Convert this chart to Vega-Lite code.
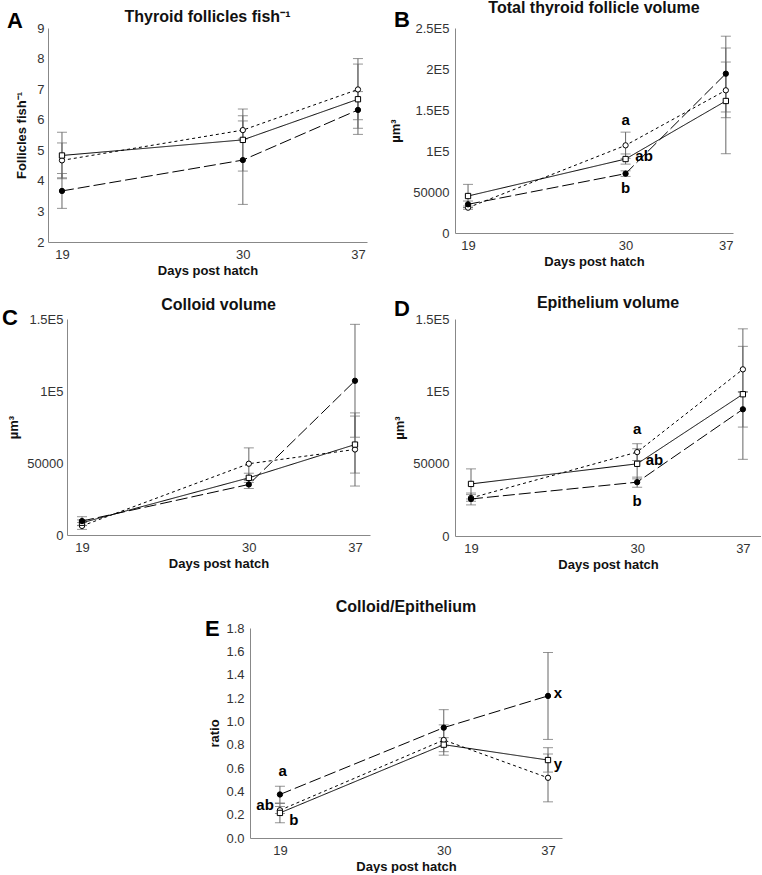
{
  "$schema": "https://vega.github.io/schema/vega-lite/v6.json",
  "background": "white",
  "padding": {"left": 0, "top": 0, "right": 0, "bottom": 0},
  "config": {
    "view": {"stroke": null},
    "font": "Liberation Sans",
    "axis": {"grid": false, "ticks": false, "domainColor": "#888888", "labelColor": "#333333", "labelFontSize": 13, "titleFontSize": 13, "titleFontWeight": "bold", "titleColor": "#111111", "labelFont": "Liberation Sans", "titleFont": "Liberation Sans", "labelPadding": 6},
    "title": {"fontSize": 16, "fontWeight": "bold", "font": "Liberation Sans", "color": "#111111", "anchor": "middle", "frame": "group"}
  },
  "datasets": {
    "main": [
      {"panel": "A", "series": "open", "day": 19, "y": 4.67, "lo": 4.10, "hi": 5.24},
      {"panel": "A", "series": "open", "day": 30, "y": 5.66, "lo": 5.37, "hi": 5.96},
      {"panel": "A", "series": "open", "day": 37, "y": 6.99, "lo": 6.00, "hi": 8.00},
      {"panel": "A", "series": "square", "day": 19, "y": 4.83, "lo": 4.07, "hi": 5.59},
      {"panel": "A", "series": "square", "day": 30, "y": 5.34, "lo": 4.32, "hi": 6.35},
      {"panel": "A", "series": "square", "day": 37, "y": 6.67, "lo": 5.52, "hi": 7.82},
      {"panel": "A", "series": "filled", "day": 19, "y": 3.67, "lo": 3.10, "hi": 4.24},
      {"panel": "A", "series": "filled", "day": 30, "y": 4.68, "lo": 3.23, "hi": 6.13},
      {"panel": "A", "series": "filled", "day": 37, "y": 6.32, "lo": 5.72, "hi": 6.92},
      {"panel": "B", "series": "open", "day": 19, "y": 30900, "lo": 28900, "hi": 32900},
      {"panel": "B", "series": "open", "day": 30, "y": 106900, "lo": 91000, "hi": 123000},
      {"panel": "B", "series": "open", "day": 37, "y": 174000, "lo": 140600, "hi": 208500},
      {"panel": "B", "series": "square", "day": 19, "y": 45100, "lo": 31000, "hi": 59300},
      {"panel": "B", "series": "square", "day": 30, "y": 90200, "lo": 84000, "hi": 96400},
      {"panel": "B", "series": "square", "day": 37, "y": 161000, "lo": 96700, "hi": 225600},
      {"panel": "B", "series": "filled", "day": 19, "y": 35000, "lo": 31000, "hi": 39000},
      {"panel": "B", "series": "filled", "day": 30, "y": 72400, "lo": 69000, "hi": 75800},
      {"panel": "B", "series": "filled", "day": 37, "y": 194300, "lo": 147600, "hi": 240000},
      {"panel": "C", "series": "open", "day": 19, "y": 6300, "lo": 3900, "hi": 8700},
      {"panel": "C", "series": "open", "day": 30, "y": 49500, "lo": 38500, "hi": 60500},
      {"panel": "C", "series": "open", "day": 37, "y": 59400, "lo": 34000, "hi": 84800},
      {"panel": "C", "series": "square", "day": 19, "y": 8500, "lo": 6500, "hi": 10500},
      {"panel": "C", "series": "square", "day": 30, "y": 39700, "lo": 36500, "hi": 42900},
      {"panel": "C", "series": "square", "day": 37, "y": 62800, "lo": 43000, "hi": 82600},
      {"panel": "C", "series": "filled", "day": 19, "y": 9700, "lo": 6700, "hi": 12700},
      {"panel": "C", "series": "filled", "day": 30, "y": 35100, "lo": 32300, "hi": 37900},
      {"panel": "C", "series": "filled", "day": 37, "y": 107100, "lo": 67900, "hi": 146300},
      {"panel": "D", "series": "open", "day": 19, "y": 26300, "lo": 24000, "hi": 28600},
      {"panel": "D", "series": "open", "day": 30, "y": 58000, "lo": 52200, "hi": 63800},
      {"panel": "D", "series": "open", "day": 37, "y": 115200, "lo": 99300, "hi": 131100},
      {"panel": "D", "series": "square", "day": 19, "y": 36000, "lo": 25600, "hi": 46400},
      {"panel": "D", "series": "square", "day": 30, "y": 49900, "lo": 39500, "hi": 60300},
      {"panel": "D", "series": "square", "day": 37, "y": 98000, "lo": 53000, "hi": 143200},
      {"panel": "D", "series": "filled", "day": 19, "y": 25600, "lo": 21500, "hi": 29700},
      {"panel": "D", "series": "filled", "day": 30, "y": 37200, "lo": 33700, "hi": 40700},
      {"panel": "D", "series": "filled", "day": 37, "y": 87600, "lo": 75300, "hi": 99900},
      {"panel": "E", "series": "filled", "day": 19, "y": 0.373, "lo": 0.30, "hi": 0.444},
      {"panel": "E", "series": "filled", "day": 30, "y": 0.946, "lo": 0.79, "hi": 1.10},
      {"panel": "E", "series": "filled", "day": 37, "y": 1.218, "lo": 0.845, "hi": 1.59},
      {"panel": "E", "series": "open", "day": 19, "y": 0.238, "lo": 0.21, "hi": 0.27},
      {"panel": "E", "series": "open", "day": 30, "y": 0.84, "lo": 0.71, "hi": 0.97},
      {"panel": "E", "series": "open", "day": 37, "y": 0.516, "lo": 0.31, "hi": 0.72},
      {"panel": "E", "series": "square", "day": 19, "y": 0.215, "lo": 0.13, "hi": 0.295},
      {"panel": "E", "series": "square", "day": 30, "y": 0.80, "lo": 0.74, "hi": 0.86},
      {"panel": "E", "series": "square", "day": 37, "y": 0.668, "lo": 0.565, "hi": 0.774}
    ],
    "notes": [
      {"panel": "B", "day": 30, "y": 137500, "label": "a"},
      {"panel": "B", "day": 31.29, "y": 94000, "label": "ab"},
      {"panel": "B", "day": 30, "y": 54500, "label": "b"},
      {"panel": "D", "day": 30, "y": 74100, "label": "a"},
      {"panel": "D", "day": 31.15, "y": 52200, "label": "ab"},
      {"panel": "D", "day": 30, "y": 24500, "label": "b"},
      {"panel": "E", "day": 19.18, "y": 0.573, "label": "a"},
      {"panel": "E", "day": 18.0, "y": 0.287, "label": "ab"},
      {"panel": "E", "day": 19.94, "y": 0.158, "label": "b"},
      {"panel": "E", "day": 37.67, "y": 1.247, "label": "x"},
      {"panel": "E", "day": 37.67, "y": 0.636, "label": "y"}
    ],
    "letters": [
      {"panel": "A", "day": 15.66, "y": 9.54, "label": "A"},
      {"panel": "B", "day": 13.83, "y": 271500, "label": "B"},
      {"panel": "C", "day": 13.73, "y": 157600, "label": "C"},
      {"panel": "D", "day": 13.9, "y": 163800, "label": "D"},
      {"panel": "E", "day": 13.97, "y": 1.874, "label": "E"}
    ]
  },
  "spacing": 28,
  "vconcat": [
    {
      "spacing": 17,
      "vconcat": [
        {
          "spacing": 0,
          "bounds": "flush",
          "hconcat": [
            {"width": 48, "height": 10, "data": {"values": [{}]}, "mark": {"type": "text"}, "encoding": {"text": {"value": ""}}},
            {
              "width": 319, "height": 214,
              "title": {"text": "Thyroid follicles fish⁻¹", "offset": -14.8},
              "data": {"name": "main"},
              "transform": [{"filter": "datum.panel === 'A'"}],
              "encoding": {
                "x": {"field": "day", "type": "quantitative", "scale": {"domain": [18.15, 37.55], "nice": false, "zero": false}, "axis": {"title": "Days post hatch", "values": [19, 30, 37], "titlePadding": 3}},
                "y": {"field": "y", "type": "quantitative", "scale": {"domain": [2, 9], "nice": false, "zero": false}, "axis": {"title": "Follicles fish⁻¹", "values": [2, 3, 4, 5, 6, 7, 8, 9], "labelPadding": 4, "titlePadding": 8}}
              },
              "layer": [
                {"mark": {"type": "rule", "color": "#666666", "strokeWidth": 1}, "encoding": {"y": {"field": "lo", "type": "quantitative", "title": "Follicles fish⁻¹"}, "y2": {"field": "hi"}}},
                {"transform": [{"fold": ["lo", "hi"], "as": ["bound", "v"]}], "mark": {"type": "tick", "orient": "horizontal", "size": 10, "thickness": 1, "color": "#666666"}, "encoding": {"y": {"field": "v", "type": "quantitative", "title": "Follicles fish⁻¹"}}},
                {"mark": {"type": "line", "color": "black", "strokeWidth": 1}, "encoding": {"strokeDash": {"field": "series", "type": "nominal", "scale": {"domain": ["filled", "open", "square"], "range": [[12, 4], [3, 3], [1, 0]]}, "legend": null}}},
                {"mark": {"type": "point", "filled": true, "stroke": "black", "strokeWidth": 1, "opacity": 1}, "encoding": {"shape": {"field": "series", "type": "nominal", "scale": {"domain": ["filled", "open", "square"], "range": ["circle", "circle", "square"]}, "legend": null}, "fill": {"field": "series", "type": "nominal", "scale": {"domain": ["filled", "open", "square"], "range": ["#000000", "#ffffff", "#ffffff"]}, "legend": null}, "size": {"field": "series", "type": "nominal", "scale": {"domain": ["filled", "open", "square"], "range": [28, 28, 36]}, "legend": null}}},
                {"data": {"name": "letters"}, "transform": [{"filter": "datum.panel === 'A'"}], "mark": {"type": "text", "align": "left", "baseline": "top", "fontSize": 22, "fontWeight": "bold", "color": "black"}, "encoding": {"text": {"field": "label"}}}
              ]
            },
            {"width": 88, "height": 10, "data": {"values": [{}]}, "mark": {"type": "text"}, "encoding": {"text": {"value": ""}}},
            {
              "width": 278, "height": 205,
              "title": {"text": "Total thyroid follicle volume", "offset": -6.8},
              "data": {"name": "main"},
              "transform": [{"filter": "datum.panel === 'B'"}],
              "encoding": {
                "x": {"field": "day", "type": "quantitative", "scale": {"domain": [18.09, 37.5], "nice": false, "zero": false}, "axis": {"title": "Days post hatch", "values": [19, 30, 37], "titlePadding": 3}},
                "y": {"field": "y", "type": "quantitative", "scale": {"domain": [0, 250000], "nice": false}, "axis": {"title": "µm³", "values": [0, 50000, 100000, 150000, 200000, 250000], "labelExpr": "datum.value >= 100000 ? (datum.value/100000) + 'E5' : datum.value + ''", "titlePadding": 10}}
              },
              "layer": [
                {"mark": {"type": "rule", "color": "#666666", "strokeWidth": 1}, "encoding": {"y": {"field": "lo", "type": "quantitative", "title": "µm³"}, "y2": {"field": "hi"}}},
                {"transform": [{"fold": ["lo", "hi"], "as": ["bound", "v"]}], "mark": {"type": "tick", "orient": "horizontal", "size": 10, "thickness": 1, "color": "#666666"}, "encoding": {"y": {"field": "v", "type": "quantitative", "title": "µm³"}}},
                {"mark": {"type": "line", "color": "black", "strokeWidth": 1}, "encoding": {"strokeDash": {"field": "series", "type": "nominal", "scale": {"domain": ["filled", "open", "square"], "range": [[12, 4], [3, 3], [1, 0]]}, "legend": null}}},
                {"mark": {"type": "point", "filled": true, "stroke": "black", "strokeWidth": 1, "opacity": 1}, "encoding": {"shape": {"field": "series", "type": "nominal", "scale": {"domain": ["filled", "open", "square"], "range": ["circle", "circle", "square"]}, "legend": null}, "fill": {"field": "series", "type": "nominal", "scale": {"domain": ["filled", "open", "square"], "range": ["#000000", "#ffffff", "#ffffff"]}, "legend": null}, "size": {"field": "series", "type": "nominal", "scale": {"domain": ["filled", "open", "square"], "range": [28, 28, 36]}, "legend": null}}},
                {"data": {"name": "notes"}, "transform": [{"filter": "datum.panel === 'B'"}], "mark": {"type": "text", "align": "center", "baseline": "middle", "fontSize": 15, "fontWeight": "bold", "color": "black"}, "encoding": {"text": {"field": "label"}}},
                {"data": {"name": "letters"}, "transform": [{"filter": "datum.panel === 'B'"}], "mark": {"type": "text", "align": "left", "baseline": "top", "fontSize": 22, "fontWeight": "bold", "color": "black"}, "encoding": {"text": {"field": "label"}}}
              ]
            }
          ]
        },
        {
          "spacing": 0,
          "bounds": "flush",
          "hconcat": [
            {"width": 67, "height": 10, "data": {"values": [{}]}, "mark": {"type": "text"}, "encoding": {"text": {"value": ""}}},
            {
              "width": 303, "height": 216,
              "title": {"text": "Colloid volume", "offset": -5.7},
              "data": {"name": "main"},
              "transform": [{"filter": "datum.panel === 'C'"}],
              "encoding": {
                "x": {"field": "day", "type": "quantitative", "scale": {"domain": [18.01, 37.99], "nice": false, "zero": false}, "axis": {"title": "Days post hatch", "values": [19, 30, 37], "titlePadding": 3}},
                "y": {"field": "y", "type": "quantitative", "scale": {"domain": [0, 150000], "nice": false}, "axis": {"title": "µm³", "values": [0, 50000, 100000, 150000], "labelExpr": "datum.value >= 100000 ? (datum.value/100000) + 'E5' : datum.value + ''", "labelPadding": 4, "titlePadding": 6}}
              },
              "layer": [
                {"mark": {"type": "rule", "color": "#666666", "strokeWidth": 1}, "encoding": {"y": {"field": "lo", "type": "quantitative", "title": "µm³"}, "y2": {"field": "hi"}}},
                {"transform": [{"fold": ["lo", "hi"], "as": ["bound", "v"]}], "mark": {"type": "tick", "orient": "horizontal", "size": 10, "thickness": 1, "color": "#666666"}, "encoding": {"y": {"field": "v", "type": "quantitative", "title": "µm³"}}},
                {"mark": {"type": "line", "color": "black", "strokeWidth": 1}, "encoding": {"strokeDash": {"field": "series", "type": "nominal", "scale": {"domain": ["filled", "open", "square"], "range": [[12, 4], [3, 3], [1, 0]]}, "legend": null}}},
                {"mark": {"type": "point", "filled": true, "stroke": "black", "strokeWidth": 1, "opacity": 1}, "encoding": {"shape": {"field": "series", "type": "nominal", "scale": {"domain": ["filled", "open", "square"], "range": ["circle", "circle", "square"]}, "legend": null}, "fill": {"field": "series", "type": "nominal", "scale": {"domain": ["filled", "open", "square"], "range": ["#000000", "#ffffff", "#ffffff"]}, "legend": null}, "size": {"field": "series", "type": "nominal", "scale": {"domain": ["filled", "open", "square"], "range": [28, 28, 36]}, "legend": null}}},
                {"data": {"name": "letters"}, "transform": [{"filter": "datum.panel === 'C'"}], "mark": {"type": "text", "align": "left", "baseline": "top", "fontSize": 22, "fontWeight": "bold", "color": "black"}, "encoding": {"text": {"field": "label"}}}
              ]
            },
            {"width": 85, "height": 10, "data": {"values": [{}]}, "mark": {"type": "text"}, "encoding": {"text": {"value": ""}}},
            {
              "width": 306, "height": 217,
              "title": {"text": "Epithelium volume", "offset": -12.7},
              "data": {"name": "main"},
              "transform": [{"filter": "datum.panel === 'D'"}],
              "encoding": {
                "x": {"field": "day", "type": "quantitative", "scale": {"domain": [17.94, 38.2], "nice": false, "zero": false}, "axis": {"title": "Days post hatch", "values": [19, 30, 37], "titlePadding": 3}},
                "y": {"field": "y", "type": "quantitative", "scale": {"domain": [0, 150000], "nice": false}, "axis": {"title": "µm³", "values": [0, 50000, 100000, 150000], "labelExpr": "datum.value >= 100000 ? (datum.value/100000) + 'E5' : datum.value + ''", "titlePadding": 6}}
              },
              "layer": [
                {"mark": {"type": "rule", "color": "#666666", "strokeWidth": 1}, "encoding": {"y": {"field": "lo", "type": "quantitative", "title": "µm³"}, "y2": {"field": "hi"}}},
                {"transform": [{"fold": ["lo", "hi"], "as": ["bound", "v"]}], "mark": {"type": "tick", "orient": "horizontal", "size": 10, "thickness": 1, "color": "#666666"}, "encoding": {"y": {"field": "v", "type": "quantitative", "title": "µm³"}}},
                {"mark": {"type": "line", "color": "black", "strokeWidth": 1}, "encoding": {"strokeDash": {"field": "series", "type": "nominal", "scale": {"domain": ["filled", "open", "square"], "range": [[12, 4], [3, 3], [1, 0]]}, "legend": null}}},
                {"mark": {"type": "point", "filled": true, "stroke": "black", "strokeWidth": 1, "opacity": 1}, "encoding": {"shape": {"field": "series", "type": "nominal", "scale": {"domain": ["filled", "open", "square"], "range": ["circle", "circle", "square"]}, "legend": null}, "fill": {"field": "series", "type": "nominal", "scale": {"domain": ["filled", "open", "square"], "range": ["#000000", "#ffffff", "#ffffff"]}, "legend": null}, "size": {"field": "series", "type": "nominal", "scale": {"domain": ["filled", "open", "square"], "range": [28, 28, 36]}, "legend": null}}},
                {"data": {"name": "notes"}, "transform": [{"filter": "datum.panel === 'D'"}], "mark": {"type": "text", "align": "center", "baseline": "middle", "fontSize": 15, "fontWeight": "bold", "color": "black"}, "encoding": {"text": {"field": "label"}}},
                {"data": {"name": "letters"}, "transform": [{"filter": "datum.panel === 'D'"}], "mark": {"type": "text", "align": "left", "baseline": "top", "fontSize": 22, "fontWeight": "bold", "color": "black"}, "encoding": {"text": {"field": "label"}}}
              ]
            }
          ]
        }
      ]
    },
    {
      "spacing": 0,
      "bounds": "flush",
      "hconcat": [
        {"width": 250, "height": 10, "data": {"values": [{}]}, "mark": {"type": "text"}, "encoding": {"text": {"value": ""}}},
        {
          "width": 312, "height": 210,
          "title": {"text": "Colloid/Epithelium", "offset": 3.2},
          "data": {"name": "main"},
          "transform": [{"filter": "datum.panel === 'E'"}],
          "encoding": {
            "x": {"field": "day", "type": "quantitative", "scale": {"domain": [16.99, 37.94], "nice": false, "zero": false}, "axis": {"title": "Days post hatch", "values": [19, 30, 37], "titlePadding": 3}},
            "y": {"field": "y", "type": "quantitative", "scale": {"domain": [0, 1.8], "nice": false}, "axis": {"title": "ratio", "values": [0, 0.2, 0.4, 0.6, 0.8, 1, 1.2, 1.4, 1.6, 1.8], "format": ".1f", "titlePadding": 4}}
          },
          "layer": [
            {"mark": {"type": "rule", "color": "#666666", "strokeWidth": 1}, "encoding": {"y": {"field": "lo", "type": "quantitative", "title": "ratio"}, "y2": {"field": "hi"}}},
            {"transform": [{"fold": ["lo", "hi"], "as": ["bound", "v"]}], "mark": {"type": "tick", "orient": "horizontal", "size": 10, "thickness": 1, "color": "#666666"}, "encoding": {"y": {"field": "v", "type": "quantitative", "title": "ratio"}}},
            {"mark": {"type": "line", "color": "black", "strokeWidth": 1}, "encoding": {"strokeDash": {"field": "series", "type": "nominal", "scale": {"domain": ["filled", "open", "square"], "range": [[12, 4], [3, 3], [1, 0]]}, "legend": null}}},
            {"mark": {"type": "point", "filled": true, "stroke": "black", "strokeWidth": 1, "opacity": 1}, "encoding": {"shape": {"field": "series", "type": "nominal", "scale": {"domain": ["filled", "open", "square"], "range": ["circle", "circle", "square"]}, "legend": null}, "fill": {"field": "series", "type": "nominal", "scale": {"domain": ["filled", "open", "square"], "range": ["#000000", "#ffffff", "#ffffff"]}, "legend": null}, "size": {"field": "series", "type": "nominal", "scale": {"domain": ["filled", "open", "square"], "range": [28, 28, 36]}, "legend": null}}},
            {"data": {"name": "notes"}, "transform": [{"filter": "datum.panel === 'E'"}], "mark": {"type": "text", "align": "center", "baseline": "middle", "fontSize": 15, "fontWeight": "bold", "color": "black"}, "encoding": {"text": {"field": "label"}}},
            {"data": {"name": "letters"}, "transform": [{"filter": "datum.panel === 'E'"}], "mark": {"type": "text", "align": "left", "baseline": "top", "fontSize": 22, "fontWeight": "bold", "color": "black"}, "encoding": {"text": {"field": "label"}}}
          ]
        }
      ]
    }
  ]
}
